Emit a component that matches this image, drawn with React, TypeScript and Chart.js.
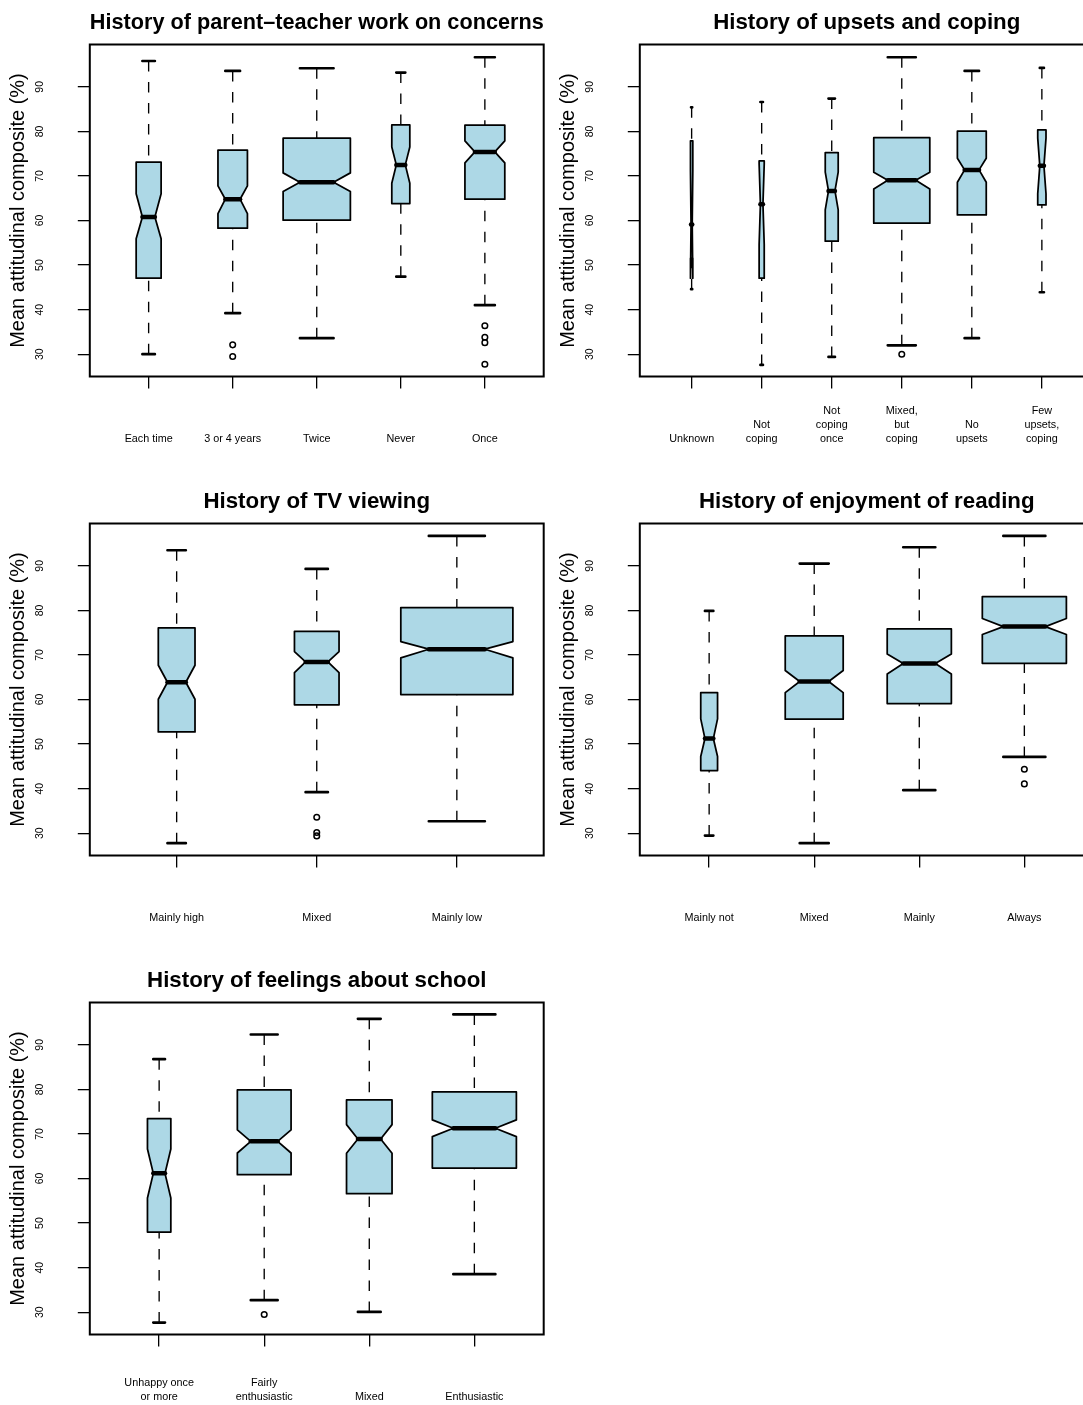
import React, { useEffect, useRef } from "react";
import { Chart, registerables } from "chart.js";

Chart.register(...registerables);
Chart.defaults.font.family = "'Liberation Sans', Arial, Helvetica, sans-serif";

// ---------- shared axis values ----------
const yTicks = [30, 40, 50, 60, 70, 80, 90];
const yMin = 25.0;
const yMax = 99.5;
const yTitle = "Mean attitudinal composite (%)";

// ---------- Panel 1 ----------
const p1Title = "History of parent\u2013teacher work on concerns";
const p1Labels = [["Each time"], ["3 or 4 years"], ["Twice"], ["Never"], ["Once"]];
const p1N = [72, 85, 194, 52, 115];
const p1Low = [30.0, 39.2, 33.6, 47.4, 41.0];
const p1Q1 = [47.05, 58.27, 60.07, 63.8, 64.78];
const p1Median = [60.8, 64.78, 68.6, 72.48, 75.4];
const p1Q3 = [73.1, 75.77, 78.47, 81.46, 81.38];
const p1High = [95.8, 93.57, 94.17, 93.2, 96.64];
const p1NotchLo = [55.9, 61.56, 66.5, 68.37, 72.93];
const p1NotchHi = [66.0, 67.77, 70.69, 76.5, 77.87];
const p1Outliers = [[], [32.1, 29.5], [], [], [36.4, 33.8, 32.6, 27.76]];

// ---------- Panel 2 ----------
const p2Title = "History of upsets and coping";
const p2Labels = [
  ["Unknown"],
  ["Not", "coping"],
  ["Not", "coping", "once"],
  ["Mixed,", "but", "coping"],
  ["No", "upsets"],
  ["Few", "upsets,", "coping"],
];
const p2N = [11, 24, 61, 264, 136, 39];
const p2Low = [44.6, 27.6, 29.4, 32.0, 33.6, 43.9];
const p2Q1 = [51.55, 47.06, 55.36, 59.4, 61.26, 63.5];
const p2Median = [59.1, 63.66, 66.65, 69.04, 71.36, 72.27];
const p2Q3 = [77.9, 73.37, 75.25, 78.6, 80.04, 80.33];
const p2High = [85.4, 86.6, 87.37, 96.64, 93.57, 94.25];
const p2NotchLo = [47.06, 54.6, 62.4, 67.1, 68.6, 66.0];
const p2NotchHi = [71.1, 72.7, 70.84, 70.84, 73.98, 78.5];
const p2Outliers = [[], [], [], [30.0], [], []];

// ---------- Panel 3 ----------
const p3Title = "History of TV viewing";
const p3Labels = [["Mainly high"], ["Mixed"], ["Mainly low"]];
const p3N = [93, 113, 284];
const p3Low = [27.76, 39.2, 32.69];
const p3Q1 = [52.74, 58.8, 61.11];
const p3Median = [63.88, 68.44, 71.29];
const p3Q3 = [76.07, 75.32, 80.64];
const p3High = [93.5, 89.31, 96.72];
const p3NotchLo = [60.07, 66.05, 69.34];
const p3NotchHi = [67.7, 70.76, 73.0];
const p3Outliers = [[], [33.59, 30.15, 29.4], []];

// ---------- Panel 4 ----------
const p4Title = "History of enjoyment of reading";
const p4Labels = [["Mainly not"], ["Mixed"], ["Mainly"], ["Always"]];
const p4N = [38, 131, 145, 190];
const p4Low = [29.48, 27.76, 39.65, 47.13];
const p4Q1 = [44.06, 55.58, 59.1, 68.14];
const p4Median = [51.24, 64.03, 68.07, 76.37];
const p4Q3 = [61.56, 74.28, 75.85, 83.1];
const p4High = [79.89, 90.51, 94.17, 96.72];
const p4NotchLo = [47.2, 61.56, 65.75, 74.58];
const p4NotchHi = [55.65, 66.5, 70.24, 78.17];
const p4Outliers = [[], [], [], [44.36, 41.07]];

// ---------- Panel 5 ----------
const p5Title = "History of feelings about school";
const p5Labels = [["Unhappy once", "or more"], ["Fairly", "enthusiastic"], ["Mixed"], ["Enthusiastic"]];
const p5N = [57, 131, 111, 205];
const p5Low = [27.68, 32.7, 30.07, 38.54];
const p5Q1 = [47.98, 60.86, 56.59, 62.36];
const p5Median = [61.16, 68.35, 68.88, 71.27];
const p5Q3 = [73.45, 79.89, 77.64, 79.44];
const p5High = [86.78, 92.32, 95.84, 96.82];
const p5NotchLo = [55.62, 65.73, 65.66, 69.4];
const p5NotchHi = [66.63, 70.9, 72.1, 73.15];
const p5Outliers = [[], [29.48], [], []];

type PanelCfg = {
  title: string;
  labels: string[][];
  n: number[];
  low: number[];
  q1: number[];
  median: number[];
  q3: number[];
  high: number[];
  notchLo: number[];
  notchHi: number[];
  outliers: number[][];
};

const panels: PanelCfg[] = [
  { title: p1Title, labels: p1Labels, n: p1N, low: p1Low, q1: p1Q1, median: p1Median, q3: p1Q3, high: p1High, notchLo: p1NotchLo, notchHi: p1NotchHi, outliers: p1Outliers },
  { title: p2Title, labels: p2Labels, n: p2N, low: p2Low, q1: p2Q1, median: p2Median, q3: p2Q3, high: p2High, notchLo: p2NotchLo, notchHi: p2NotchHi, outliers: p2Outliers },
  { title: p3Title, labels: p3Labels, n: p3N, low: p3Low, q1: p3Q1, median: p3Median, q3: p3Q3, high: p3High, notchLo: p3NotchLo, notchHi: p3NotchHi, outliers: p3Outliers },
  { title: p4Title, labels: p4Labels, n: p4N, low: p4Low, q1: p4Q1, median: p4Median, q3: p4Q3, high: p4High, notchLo: p4NotchLo, notchHi: p4NotchHi, outliers: p4Outliers },
  { title: p5Title, labels: p5Labels, n: p5N, low: p5Low, q1: p5Q1, median: p5Median, q3: p5Q3, high: p5High, notchLo: p5NotchLo, notchHi: p5NotchHi, outliers: p5Outliers },
];

const PANEL_W = 550;
const PANEL_H = 479;
const BOX_FILL = "#ADD8E6";

function makeBoxPlugin(cfg: PanelCfg) {
  return {
    id: "notchedBoxes",
    beforeDatasetsDraw(chart: any) {
      const ctx = chart.ctx;
      const xs = chart.scales.x;
      const ys = chart.scales.y;
      const maxN = Math.max(...cfg.n);
      ctx.save();
      cfg.labels.forEach((_, i) => {
        const pos = i + 1;
        const xc = xs.getPixelForValue(pos);
        const hw = 0.4 * (cfg.n[i] / maxN);
        const wid = xs.getPixelForValue(pos + hw) - xc;
        const yLo = ys.getPixelForValue(cfg.low[i]);
        const yQ1 = ys.getPixelForValue(cfg.q1[i]);
        const yMed = ys.getPixelForValue(cfg.median[i]);
        const yQ3 = ys.getPixelForValue(cfg.q3[i]);
        const yHi = ys.getPixelForValue(cfg.high[i]);
        const yCL = ys.getPixelForValue(cfg.notchLo[i]);
        const yCH = ys.getPixelForValue(cfg.notchHi[i]);

        // whiskers (dashed)
        ctx.strokeStyle = "#000";
        ctx.lineWidth = 1.35;
        ctx.lineCap = "butt";
        ctx.setLineDash([10.5, 10.5]);
        ctx.beginPath();
        ctx.moveTo(xc, yLo);
        ctx.lineTo(xc, yQ1);
        ctx.moveTo(xc, yHi);
        ctx.lineTo(xc, yQ3);
        ctx.stroke();
        ctx.setLineDash([]);

        // staples
        ctx.lineWidth = 2.7;
        ctx.lineCap = "round";
        ctx.beginPath();
        ctx.moveTo(xc - wid * 0.5, yLo);
        ctx.lineTo(xc + wid * 0.5, yLo);
        ctx.moveTo(xc - wid * 0.5, yHi);
        ctx.lineTo(xc + wid * 0.5, yHi);
        ctx.stroke();

        // notched box polygon (R bxp style)
        const nf = 0.5;
        const px = [-1, 1, 1, nf, 1, 1, -1, -1, -nf, -1].map((f) => xc + wid * f);
        const py = [yQ1, yQ1, yCL, yMed, yCH, yQ3, yQ3, yCH, yMed, yCL];
        ctx.beginPath();
        ctx.moveTo(px[0], py[0]);
        for (let k = 1; k < px.length; k++) ctx.lineTo(px[k], py[k]);
        ctx.closePath();
        ctx.fillStyle = BOX_FILL;
        ctx.fill();
        ctx.lineWidth = 1.75;
        ctx.lineJoin = "round";
        ctx.stroke();

        // median
        ctx.lineWidth = 4.5;
        ctx.lineCap = "round";
        ctx.beginPath();
        ctx.moveTo(xc - wid * nf, yMed);
        ctx.lineTo(xc + wid * nf, yMed);
        ctx.stroke();
      });
      ctx.restore();
    },
    afterDraw(chart: any) {
      const { ctx, chartArea } = chart;
      ctx.save();
      ctx.strokeStyle = "#000";
      ctx.lineWidth = 2;
      ctx.strokeRect(chartArea.left, chartArea.top, chartArea.right - chartArea.left, chartArea.bottom - chartArea.top);
      ctx.restore();
    },
  };
}

function Panel({ cfg, left, top }: { cfg: PanelCfg; left: number; top: number }) {
  const ref = useRef<HTMLCanvasElement | null>(null);
  useEffect(() => {
    if (!ref.current) return;
    const count = cfg.labels.length;
    const maxLines = Math.max(...cfg.labels.map((l) => l.length));
    const padded = cfg.labels.map((l) => [...Array(maxLines - l.length).fill(""), ...l]);
    const lineH = 14;
    const xPad = 43.2 - (maxLines - 1) * lineH;
    const points: { x: number; y: number }[] = [];
    cfg.outliers.forEach((arr, i) => arr.forEach((v) => points.push({ x: i + 1, y: v })));
    const ext = 0.04 * count;
    const gridOpts = { drawOnChartArea: false, drawTicks: true, tickLength: 12, color: "#000", lineWidth: 1.3 };

    const chart = new Chart(ref.current, {
      type: "scatter",
      data: {
        datasets: [
          {
            data: points,
            pointRadius: 2.8,
            pointHoverRadius: 2.8,
            borderColor: "#000",
            backgroundColor: "rgba(0,0,0,0)",
            borderWidth: 1.5,
            pointStyle: "circle",
          },
        ],
      },
      options: {
        responsive: false,
        animation: false,
        devicePixelRatio: 1,
        events: [],
        layout: { padding: { left: 0, right: 6.3, top: 0, bottom: 0 } },
        plugins: {
          legend: { display: false },
          tooltip: { enabled: false },
          title: {
            display: true,
            text: cfg.title,
            fullSize: false,
            color: "#000",
            font: { size: 22.3, weight: "bold", lineHeight: 1.2 },
            padding: { top: 9.2, bottom: 8.54 },
          },
        },
        scales: {
          x: {
            type: "linear",
            min: 0.5 - ext,
            max: count + 0.5 + ext,
            afterBuildTicks: (s: any) => {
              s.ticks = cfg.labels.map((_, i) => ({ value: i + 1 }));
            },
            afterFit: (s: any) => {
              s.height = PANEL_H - 376.5;
            },
            grid: gridOpts,
            border: { display: false },
            ticks: {
              autoSkip: false,
              maxRotation: 0,
              minRotation: 0,
              padding: xPad,
              color: "#000",
              font: { size: 10.8, lineHeight: lineH / 10.8 },
              callback: (_v: any, i: number) => padded[i],
            },
          },
          y: {
            type: "linear",
            min: yMin,
            max: yMax,
            afterBuildTicks: (s: any) => {
              s.ticks = yTicks.map((v) => ({ value: v }));
            },
            afterFit: (s: any) => {
              s.width = 89.8;
            },
            grid: gridOpts,
            border: { display: false },
            ticks: {
              autoSkip: false,
              minRotation: 90,
              maxRotation: 90,
              crossAlign: "center",
              padding: 32,
              color: "#000",
              font: { size: 10.5 },
              callback: (v: any) => String(v),
            },
            title: {
              display: true,
              text: yTitle,
              color: "#000",
              font: { size: 20, lineHeight: 1.2 },
              padding: { top: 6.5, bottom: 0 },
            },
          },
        },
      } as any,
      plugins: [makeBoxPlugin(cfg)],
    });
    return () => chart.destroy();
  }, [cfg]);

  return (
    <canvas
      ref={ref}
      width={PANEL_W}
      height={PANEL_H}
      style={{ position: "absolute", left, top, width: PANEL_W, height: PANEL_H, display: "block" }}
    />
  );
}

export default function App() {
  return (
    <div
      style={{
        position: "absolute",
        left: 0,
        top: 0,
        width: 1083,
        height: 1405,
        overflow: "hidden",
        background: "#fff",
      }}
    >
      {panels.map((p, k) => (
        <Panel key={k} cfg={p} left={(k % 2) * PANEL_W} top={Math.floor(k / 2) * PANEL_H} />
      ))}
    </div>
  );
}
